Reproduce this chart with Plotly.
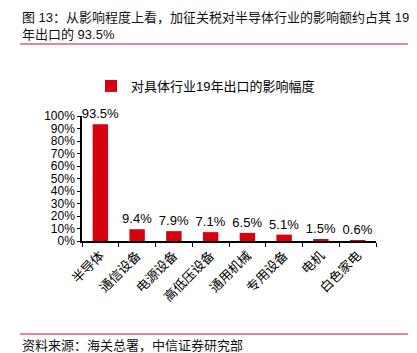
import plotly.graph_objects as go

categories = ["半导体", "通信设备", "电源设备", "高低压设备", "通用机械", "专用设备", "电机", "白色家电"]
values = [0.935, 0.094, 0.079, 0.071, 0.065, 0.051, 0.015, 0.006]
series_name = "对具体行业19年出口的影响幅度"
title_text = "图 13：从影响程度上看，加征关税对半导体行业的影响额约占其 19<br>年出口的 93.5%"
source_text = "资料来源：海关总署，中信证券研究部"

W, H = 417, 353
FONT = "Liberation Sans, Arial, Noto Sans CJK SC, sans-serif"
RED = "#D7000F"

fig = go.Figure()
fig.add_trace(go.Bar(
    x=categories, y=values, name=series_name,
    marker=dict(color=RED, line=dict(width=0)),
    texttemplate="%{y:.1%}", textposition="outside", constraintext="none",
    textfont=dict(size=13, color="#000"), cliponaxis=False,
    showlegend=True,
))

ml, mr, mt, mb = 82, 41, 116, 112
pw, ph = W - ml - mr, H - mt - mb

def px(x):
    return (x - ml) / pw

def py(y):
    return (H - mb - y) / ph

fig.update_layout(
    width=W, height=H,
    margin=dict(l=ml, r=mr, t=mt, b=mb, pad=0),
    paper_bgcolor="white", plot_bgcolor="white",
    font=dict(family=FONT, size=13, color="#000"),
    bargap=0.58,
    showlegend=True,
    legend=dict(
        orientation="h", x=px(91), y=py(86), xanchor="left", yanchor="middle",
        font=dict(size=13, color="#000"), itemwidth=30,
        bgcolor="rgba(0,0,0,0)",
    ),
    xaxis=dict(
        type="category", tickson="boundaries", ticks="outside", ticklen=4,
        tickcolor="#000", showline=True, linecolor="#000", linewidth=1.5,
        tickangle=-45, tickfont=dict(size=13), showgrid=False,
    ),
    yaxis=dict(
        range=[0, 1], dtick=0.1, tickformat=".0%", ticks="outside", ticklen=3,
        tickcolor="#000", showline=True, linecolor="#000", linewidth=1.5,
        showgrid=False, zeroline=False, tickfont=dict(size=12),
    ),
)

fig.add_annotation(
    text=title_text, xref="paper", yref="paper",
    x=px(20), y=py(8), xanchor="left", yanchor="top", align="left",
    showarrow=False, font=dict(size=13, color="#111"),
)
fig.add_annotation(
    text=source_text, xref="paper", yref="paper",
    x=px(20), y=py(345), xanchor="left", yanchor="middle", align="left",
    showarrow=False, font=dict(size=13, color="#111"),
)
fig.add_shape(type="line", xref="paper", yref="paper",
              x0=px(20), x1=px(408), y0=py(44), y1=py(44),
              line=dict(color="#C8102E", width=1))
fig.add_shape(type="line", xref="paper", yref="paper",
              x0=px(20), x1=px(408), y0=py(334), y1=py(334),
              line=dict(color="#C8102E", width=1))

fig.write_html("out.html")
